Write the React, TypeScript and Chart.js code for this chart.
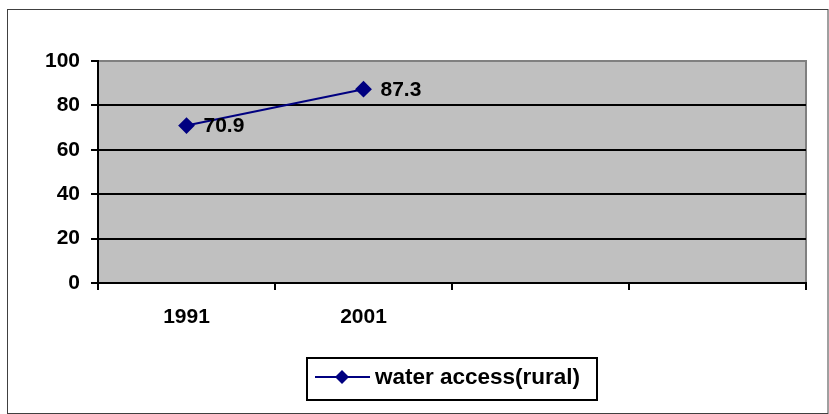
import React, { useEffect, useRef } from "react";
import { Chart, registerables } from "chart.js";

Chart.register(...registerables);

const categories = ["1991", "2001", "", ""];
const seriesLabel = "water access(rural)";
const seriesValues = [70.9, 87.3, null, null];
const yTicks = [0, 20, 40, 60, 80, 100];

const FONT = "'Liberation Sans', Arial, sans-serif";
const NAVY = "#000080";

const decorPlugin = {
  id: "decor",
  beforeDraw(chart: any) {
    const { ctx, chartArea: a } = chart;
    ctx.save();
    ctx.fillStyle = "#ffffff";
    ctx.fillRect(0, 0, chart.width, chart.height);
    // outer border
    ctx.strokeStyle = "#404040";
    ctx.lineWidth = 1;
    ctx.strokeRect(7.5, 9.5, chart.width - 8.5, chart.height - 10);
    // plot background
    ctx.fillStyle = "#c0c0c0";
    ctx.fillRect(a.left, a.top, a.right - a.left, a.bottom - a.top);
    ctx.strokeStyle = "#808080";
    ctx.lineWidth = 2;
    ctx.beginPath();
    ctx.moveTo(a.left, a.top);
    ctx.lineTo(a.right, a.top);
    ctx.lineTo(a.right, a.bottom);
    ctx.stroke();
    ctx.restore();
  },
  afterDraw(chart: any) {
    const { ctx } = chart;
    ctx.save();
    // data labels
    const meta = chart.getDatasetMeta(0);
    ctx.font = `bold 21px ${FONT}`;
    ctx.fillStyle = "#000";
    ctx.textBaseline = "middle";
    ctx.textAlign = "left";
    meta.data.forEach((pt: any, i: number) => {
      const v = seriesValues[i];
      if (v == null) return;
      ctx.fillText(String(v), pt.x + 17, pt.y + 1);
    });
    // legend
    const bx = 307, by = 358, bw = 290, bh = 42;
    ctx.strokeStyle = "#000";
    ctx.lineWidth = 2;
    ctx.strokeRect(bx, by, bw, bh);
    const ly = by + bh / 2 - 2;
    ctx.strokeStyle = NAVY;
    ctx.lineWidth = 2;
    ctx.beginPath();
    ctx.moveTo(315, ly);
    ctx.lineTo(370, ly);
    ctx.stroke();
    ctx.fillStyle = NAVY;
    ctx.beginPath();
    const cx = 342, r = 7;
    ctx.moveTo(cx, ly - r);
    ctx.lineTo(cx + r, ly);
    ctx.lineTo(cx, ly + r);
    ctx.lineTo(cx - r, ly);
    ctx.closePath();
    ctx.fill();
    ctx.fillStyle = "#000";
    ctx.font = `bold 22.5px ${FONT}`;
    ctx.fillText(chart.data.datasets[0].label, 375, ly + 1);
    ctx.restore();
  },
};

export default function App() {
  const ref = useRef<HTMLCanvasElement>(null);
  useEffect(() => {
    document.body.style.margin = "0";
    const chart = new Chart(ref.current!, {
      type: "line",
      data: {
        labels: categories,
        datasets: [
          {
            label: seriesLabel,
            data: seriesValues,
            borderColor: NAVY,
            backgroundColor: NAVY,
            borderWidth: 2,
            pointStyle: "rectRot",
            pointRadius: 7,
            pointHoverRadius: 7,
            spanGaps: false,
          },
        ],
      },
      options: {
        animation: false,
        responsive: false,
        events: [],
        layout: { padding: { top: 61, right: 23, bottom: 81, left: 0 } },
        plugins: { legend: { display: false }, tooltip: { enabled: false } },
        scales: {
          x: {
            type: "category",
            offset: true,
            grid: {
              offset: true,
              drawOnChartArea: false,
              drawTicks: true,
              tickLength: 7,
              color: "#000",
              lineWidth: 2,
            },
            border: { color: "#000", width: 2 },
            ticks: {
              color: "#000",
              font: { family: FONT, size: 21, weight: "bold" },
              padding: 15,
              maxRotation: 0,
              autoSkip: false,
            },
            afterFit(scale: any) {
              scale.height = 50;
            },
          },
          y: {
            min: 0,
            max: 100,
            afterBuildTicks(scale: any) {
              scale.ticks = yTicks.map((v) => ({ value: v }));
            },
            grid: {
              color: (c: any) => (c.tick && c.tick.value === 100 ? "#808080" : "#000"),
              lineWidth: 2,
              tickLength: 7,
              tickColor: "#000",
            },
            border: { color: "#000", width: 2 },
            ticks: {
              color: "#000",
              font: { family: FONT, size: 21, weight: "bold" },
              padding: 11,
            },
            afterFit(scale: any) {
              scale.width = 98;
            },
          },
        },
      },
      plugins: [decorPlugin],
    } as any);
    return () => chart.destroy();
  }, []);
  return (
    <div style={{ position: "absolute", left: 0, top: 0, width: 829, height: 414 }}>
      <canvas ref={ref} width={829} height={414} style={{ display: "block" }} />
    </div>
  );
}
